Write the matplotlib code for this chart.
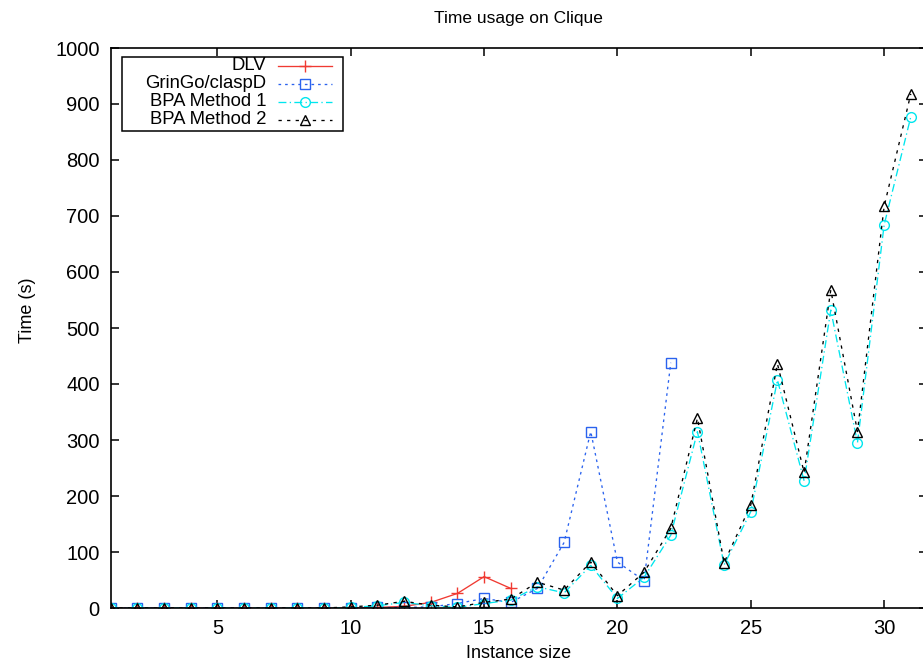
import numpy as np
import matplotlib.pyplot as plt
from matplotlib.patches import Rectangle
from matplotlib.lines import Line2D

plt.rcParams['font.family'] = ['Liberation Sans', 'DejaVu Sans']

# data
x_dlv = list(range(1, 17))
dlv = [0, 0, 0, 0, 0, 0, 0, 0, 0, 0.5, 1, 3, 10, 26, 56, 35]

x_gringo = list(range(1, 23))
gringo = [0, 0, 0, 0, 0, 0, 0, 0, 0, 0, 1, 1, 2, 8, 17, 10, 35, 117, 315, 82, 49, 438]

x_bpa = list(range(1, 32))
bpa1 = [0, 0, 0, 0, 0, 0, 0, 0, 0, 1, 4, 10, 4, 1, 8, 14, 38, 27, 76, 17, 55,
        130, 315, 77, 172, 407, 227, 532, 295, 684, 877]
bpa2 = [0, 0, 0, 0, 0, 0, 0, 0, 0, 2, 5, 12, 5, 2, 10, 16, 46, 32, 82, 22, 64,
        142, 339, 81, 184, 436, 242, 568, 315, 717, 918]

labels = ["DLV", "GrinGo/claspD", "BPA Method 1", "BPA Method 2"]
colors = ["#f03a32", "#2a62ee", "#00e6ee", "black"]
styles = [
    dict(ls="-", marker="+", ms=9, mfc="none"),
    dict(ls=(0, (2, 3)), marker="s", ms=7, mfc="none"),
    dict(ls=(0, (6, 2.5, 1, 2.5)), marker="o", ms=7, mfc="none"),
    dict(ls=(0, (2.5, 4)), marker="^", ms=7, mfc="none"),
]

W, H = 923, 661
fig = plt.figure(figsize=(W / 100, H / 100), dpi=100)

x0_px, x1_px = 110.7, 926.8
y0_px, y1_px = 608, 48
ax = fig.add_axes([x0_px / W, 1 - y0_px / H, (x1_px - x0_px) / W, (y0_px - y1_px) / H])

series = [(x_dlv, dlv), (x_gringo, gringo), (x_bpa, bpa1), (x_bpa, bpa2)]
for (xs, ys), c, st in zip(series, colors, styles):
    ax.plot(xs, ys, color=c, lw=0.95, mew=1.0, **st)

ax.set_xlim(1, 1 + (x1_px - x0_px) / 26.67)
ax.set_ylim(0, 1000)
ax.set_xticks([5, 10, 15, 20, 25, 30])
ax.set_yticks(np.arange(0, 1001, 100))
ax.tick_params(direction="in", length=6, width=1.1, top=True, right=True,
               labelsize=14.5, pad=8)
for s in ax.spines.values():
    s.set_linewidth(1.2)

ax.set_title("Time usage on Clique", fontsize=12.5, pad=18)
ax.set_xlabel("Instance size", fontsize=13, labelpad=5)
ax.set_ylabel("Time (s)", fontsize=13)
ax.yaxis.set_label_coords(-0.092, 0.532)

# gnuplot style key: right-justified text, sample on the right
def fx(px):
    return px / W

def fy(py):
    return 1 - py / H

box = Rectangle((fx(121.7), fy(130.7)), fx(343) - fx(121.7), fy(56.7) - fy(130.7),
                transform=fig.transFigure, facecolor="white", edgecolor="black",
                lw=1.1, zorder=5)
fig.add_artist(box)
rows = [66, 84, 102, 120]
for lab, c, st, ry in zip(labels, colors, styles, rows):
    fig.text(fx(266), fy(ry), lab, ha="right", va="center", fontsize=13.3, zorder=6)
    ln = Line2D([fx(278), fx(305), fx(332)], [fy(ry)] * 3, transform=fig.transFigure,
                color=c, lw=0.95, mew=1.0, markevery=[1], zorder=6, **st)
    fig.add_artist(ln)

fig.savefig("out.png", dpi=100)
